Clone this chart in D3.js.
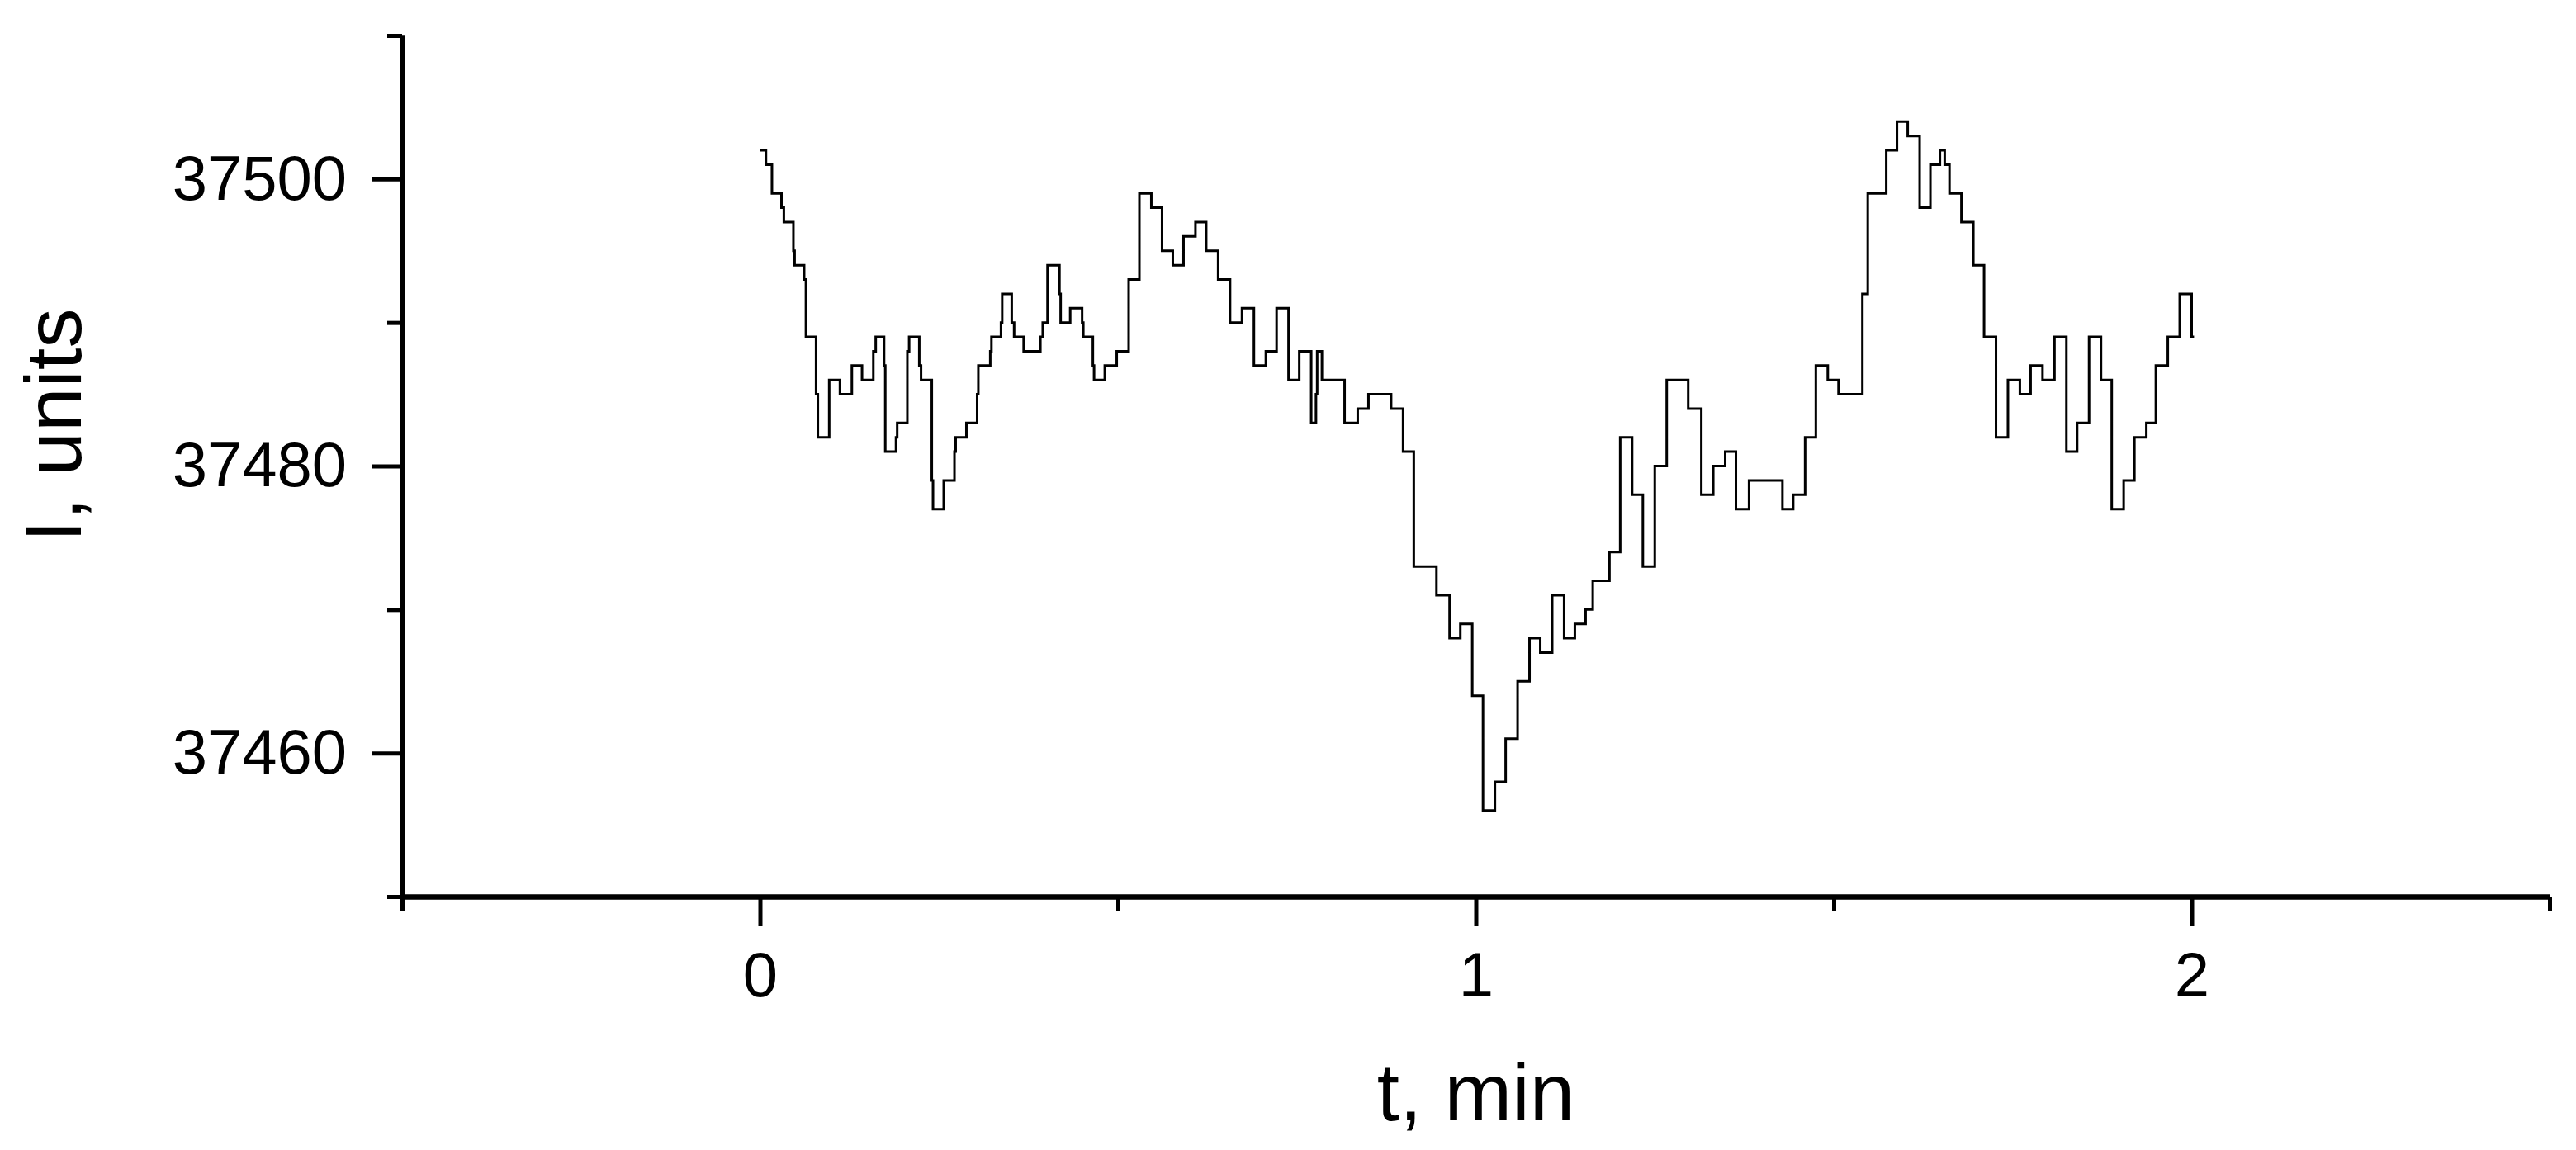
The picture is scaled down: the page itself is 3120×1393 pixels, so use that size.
<!DOCTYPE html>
<html>
    <head>
        <title>I(t) step trace</title>
        <meta charset="UTF-8">
        <script src="https://d3js.org/d3.v7.min.js"></script>
    </head>
    <body>

<style>
html, body {
  margin: 0;
  padding: 0;
  background-color: white;
}
svg {
  display: block;
  background-color: white;
}
text {
  font-family: "Liberation Sans", Arial, sans-serif;
  fill: black;
}
</style>
<script>
/*global d3*/

// time (s) where the count changes, and the count from there on
var timeSec = [0, 0.5, 1.0, 1.8, 2.0, 2.8, 2.9, 3.7, 3.85, 4.7, 4.85, 5.8, 6.7, 7.7, 8.55, 9.5, 9.7,
    10.4, 10.5, 11.4, 11.5, 12.35, 12.5, 13.35, 13.5, 14.4, 14.5, 15.4, 16.3, 16.4, 17.3, 18.2, 18.3,
    19.3, 19.4, 20.2, 20.3, 21.1, 21.3, 22.1, 23.5, 23.7, 24.1, 25.1, 25.2, 26.0, 27.0, 27.1, 27.9,
    28.0, 28.9, 29.9, 30.9, 31.8, 32.8, 33.7, 34.6, 35.5, 36.5, 37.4, 38.4, 39.4, 40.4, 41.4, 42.4,
    43.3, 44.3, 45.2, 46.2, 46.6, 46.7, 47.1, 49.0, 50.1, 51.0, 52.9, 53.9, 54.8, 56.7, 57.8, 58.7,
    59.7, 60.6, 61.6, 62.5, 63.5, 64.5, 65.4, 66.4, 67.4, 68.3, 69.2, 69.8, 71.2, 72.1, 73.1, 74.0,
    75.0, 76.0, 77.8, 78.9, 79.9, 80.9, 81.8, 82.9, 85.7, 86.6, 87.6, 88.5, 89.5, 90.4, 92.4, 92.85,
    94.4, 95.3, 96.2, 97.2, 98.1, 98.9, 99.3, 99.7, 100.7, 101.7, 102.6, 103.6, 104.6, 105.6, 106.5,
    107.5, 108.5, 109.5, 110.4, 111.4, 112.4, 113.3, 114.3, 115.2, 116.2, 117.0, 118.0, 119.0, 120.0,
    120.2];

var intensity = [37502, 37501, 37499, 37498, 37497, 37495, 37494, 37493, 37489, 37485, 37482, 37486,
    37485, 37487, 37486, 37488, 37489, 37487, 37481, 37482, 37483, 37488, 37489, 37487, 37486, 37479,
    37477, 37479, 37481, 37482, 37483, 37485, 37487, 37488, 37489, 37490, 37492, 37490, 37489, 37488,
    37489, 37490, 37494, 37492, 37490, 37491, 37490, 37489, 37487, 37486, 37487, 37488, 37493, 37499,
    37498, 37495, 37494, 37496, 37497, 37495, 37493, 37490, 37491, 37487, 37488, 37491, 37486, 37488,
    37483, 37485, 37488, 37486, 37483, 37484, 37485, 37484, 37481, 37473, 37471, 37468, 37469, 37464,
    37456, 37458, 37461, 37465, 37468, 37467, 37471, 37468, 37469, 37470, 37472, 37474, 37482, 37478,
    37473, 37480, 37486, 37484, 37478, 37480, 37481, 37477, 37479, 37477, 37478, 37482, 37487, 37486,
    37485, 37492, 37499, 37502, 37504, 37503, 37498, 37501, 37502, 37501, 37499, 37497, 37494, 37489,
    37482, 37486, 37485, 37487, 37486, 37489, 37481, 37483, 37489, 37486, 37477, 37479, 37482, 37483,
    37487, 37489, 37492, 37489, 37489];

var xMajor = [0, 1, 2];
var xMinor = [-0.5, 0.5, 1.5, 2.5];
var yMajor = [37460, 37480, 37500];
var yMinor = [37450, 37470, 37490, 37510];

var width = 3120,
    height = 1393;

var svg = d3.select("body").append("svg")
    .attr("width", width)
    .attr("height", height);

var x = d3.scaleLinear()
    .domain([-0.5, 2.5])
    .range([487, 3088]);

var y = d3.scaleLinear()
    .domain([37450, 37510])
    .range([1086, 43]);

var data = timeSec.map(function(s, i) {
    return [s / 60, intensity[i]];
});

// minor ticks first, majors with labels on top
svg.append("g")
    .attr("transform", "translate(0," + y(37450) + ")")
    .call(d3.axisBottom(x).tickValues(xMinor).tickSize(17).tickSizeOuter(0).tickFormat(""));
svg.append("g")
    .attr("transform", "translate(" + x(-0.5) + ",0)")
    .call(d3.axisLeft(y).tickValues(yMinor).tickSize(18).tickSizeOuter(0).tickFormat(""));

var xAxis = svg.append("g")
    .attr("transform", "translate(0," + y(37450) + ")")
    .call(d3.axisBottom(x).tickValues(xMajor).tickSize(36).tickSizeOuter(0).tickPadding(31)
        .tickFormat(d3.format("d")));
var yAxis = svg.append("g")
    .attr("transform", "translate(" + x(-0.5) + ",0)")
    .call(d3.axisLeft(y).tickValues(yMajor).tickSize(36).tickSizeOuter(0).tickPadding(31)
        .tickFormat(d3.format("d")));

svg.selectAll(".domain")
    .attr("stroke", "black")
    .attr("stroke-width", 6);
svg.selectAll(".tick line")
    .attr("stroke", "black")
    .attr("stroke-width", 5);
svg.selectAll(".tick text")
    .attr("font-family", "'Liberation Sans', Arial, sans-serif")
    .attr("font-size", 76)
    .attr("fill", "black");

svg.append("path")
    .datum(data)
    .attr("fill", "none")
    .attr("stroke", "black")
    .attr("stroke-width", 3)
    .attr("d", d3.line()
        .curve(d3.curveStepAfter)
        .x(function(d) { return x(d[0]); })
        .y(function(d) { return y(d[1]); }));

svg.append("text")
    .attr("x", x(1))
    .attr("y", 1357)
    .attr("text-anchor", "middle")
    .attr("font-size", 98)
    .text("t, min");

svg.append("text")
    .attr("transform", "translate(98,515) rotate(-90)")
    .attr("text-anchor", "middle")
    .attr("font-size", 96)
    .text("I, units");

</script>

    </body>
</html>
